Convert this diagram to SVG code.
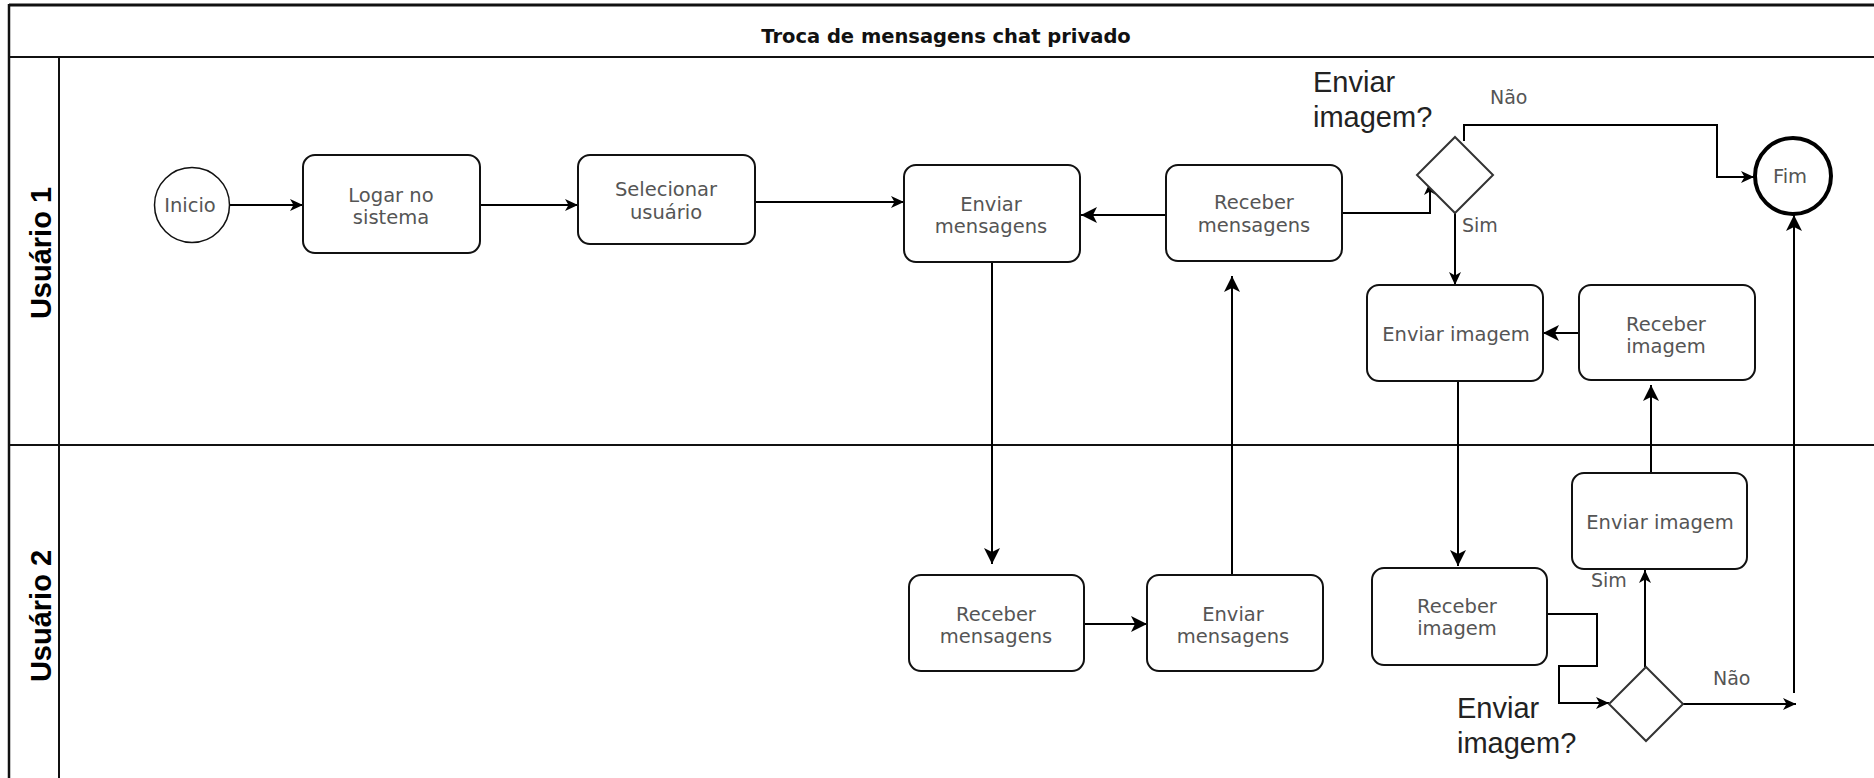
<svg xmlns="http://www.w3.org/2000/svg" width="1874" height="778" viewBox="0 0 1874 778">
  <style>
    .frame { fill: none; stroke: #111; stroke-width: 2; }
    .box { fill: #fff; stroke: #111; stroke-width: 2; }
    .dia { fill: #fff; stroke: #333; stroke-width: 2; }
    .conn { fill: none; stroke: #000; stroke-width: 2; }
    .t { font-family: "DejaVu Sans", Verdana, sans-serif; font-size: 19.5px; fill: #555; text-anchor: middle; }
    .lbl { font-family: "DejaVu Sans", Verdana, sans-serif; font-size: 19px; fill: #555; }
    .q { font-family: "Liberation Sans", Arial, sans-serif; font-size: 29px; fill: #222; }
    .title { font-family: "DejaVu Sans", Verdana, sans-serif; font-size: 19.5px; font-weight: bold; fill: #111; text-anchor: middle; }
    .lane { font-family: "Liberation Sans", Arial, sans-serif; font-size: 29px; font-weight: bold; fill: #000; text-anchor: middle; }
  </style>
  <defs>
    <marker id="arr" markerUnits="userSpaceOnUse" markerWidth="14" markerHeight="12" refX="13" refY="6" orient="auto">
      <path d="M0,0 L13,6 L0,12 L3.5,6 Z" fill="#000"/>
    </marker>
    <marker id="arrBig" markerUnits="userSpaceOnUse" markerWidth="17" markerHeight="16" refX="16" refY="8" orient="auto">
      <path d="M0,0 L16,8 L0,16 L4,8 Z" fill="#000"/>
    </marker>
  </defs>
  <rect x="0" y="0" width="1874" height="778" fill="#fff"/>

  <g id="pool">
    <line x1="9" y1="5" x2="1874" y2="5" stroke="#111" stroke-width="3"/>
    <line x1="9" y1="4" x2="9" y2="778" stroke="#111" stroke-width="2.5"/>
    <line x1="9" y1="57" x2="1874" y2="57" class="frame"/>
    <line x1="59" y1="57" x2="59" y2="778" class="frame"/>
    <line x1="9" y1="445" x2="1874" y2="445" class="frame"/>
    <text class="title" x="946" y="43">Troca de mensagens chat privado</text>
  </g>
  <g id="lane-usuario1">
    <text class="lane" x="51" y="253" transform="rotate(-90 51 253)">Usuário 1</text>
  </g>
  <g id="lane-usuario2">
    <text class="lane" x="51" y="616" transform="rotate(-90 51 616)">Usuário 2</text>
  </g>

  <g id="connectors">
    <path class="conn" d="M229,205 H303" marker-end="url(#arr)"/>
    <path class="conn" d="M480,205 H578" marker-end="url(#arr)"/>
    <path class="conn" d="M755,202 H904" marker-end="url(#arr)"/>
    <path class="conn" d="M1166,215 H1081" marker-end="url(#arrBig)"/>
    <path class="conn" d="M992,262 V564" marker-end="url(#arrBig)"/>
    <path class="conn" d="M1084,624 H1147" marker-end="url(#arrBig)"/>
    <path class="conn" d="M1232,575 V276" marker-end="url(#arrBig)"/>
    <path class="conn" d="M1342,213 H1430 V182" marker-end="url(#arr)"/>
    <path class="conn" d="M1464,141 V125 H1717 V177 H1754" marker-end="url(#arr)"/>
    <path class="conn" d="M1455,213 V285" marker-end="url(#arr)"/>
    <path class="conn" d="M1608,333 H1543" marker-end="url(#arrBig)"/>
    <path class="conn" d="M1458,381 V566" marker-end="url(#arrBig)"/>
    <path class="conn" d="M1547,614 H1597 V666 H1559 V703 H1609" marker-end="url(#arr)"/>
    <path class="conn" d="M1645,667 V570" marker-end="url(#arr)"/>
    <path class="conn" d="M1651,473 V385" marker-end="url(#arrBig)"/>
    <path class="conn" d="M1683,704 H1796" marker-end="url(#arr)"/>
    <path class="conn" d="M1794,693 V215" marker-end="url(#arrBig)"/>
  </g>

  <g id="inicio">
    <circle cx="192" cy="205" r="37.5" fill="#fff" stroke="#111" stroke-width="1.5"/>
    <text class="t" x="190" y="212">Inicio</text>
  </g>
  <g id="logar">
    <rect class="box" x="303" y="155" width="177" height="98" rx="12"/>
    <text class="t" x="391" y="202">Logar no</text>
    <text class="t" x="391" y="224">sistema</text>
  </g>
  <g id="selecionar">
    <rect class="box" x="578" y="155" width="177" height="89" rx="12"/>
    <text class="t" x="666" y="196">Selecionar</text>
    <text class="t" x="666" y="219">usuário</text>
  </g>
  <g id="enviar-msg-1">
    <rect class="box" x="904" y="165" width="176" height="97" rx="12"/>
    <text class="t" x="991" y="211">Enviar</text>
    <text class="t" x="991" y="233">mensagens</text>
  </g>
  <g id="receber-msg-1">
    <rect class="box" x="1166" y="165" width="176" height="96" rx="12"/>
    <text class="t" x="1254" y="209">Receber</text>
    <text class="t" x="1254" y="232">mensagens</text>
  </g>
  <g id="decisao-1">
    <polygon class="dia" points="1455,137 1493,175 1455,213 1417,175"/>
    <text class="q" x="1313" y="92">Enviar</text>
    <text class="q" x="1313" y="127">imagem?</text>
    <text class="lbl" x="1490" y="104">Não</text>
    <text class="lbl" x="1462" y="232">Sim</text>
  </g>
  <g id="fim">
    <circle cx="1793" cy="176" r="38" fill="#fff" stroke="#000" stroke-width="4"/>
    <text class="t" x="1790" y="183">Fim</text>
  </g>
  <g id="enviar-img-1">
    <rect class="box" x="1367" y="285" width="176" height="96" rx="12"/>
    <text class="t" x="1456" y="341">Enviar imagem</text>
  </g>
  <g id="receber-img-1">
    <rect class="box" x="1579" y="285" width="176" height="95" rx="12"/>
    <text class="t" x="1666" y="331">Receber</text>
    <text class="t" x="1666" y="353">imagem</text>
  </g>
  <g id="receber-msg-2">
    <rect class="box" x="909" y="575" width="175" height="96" rx="12"/>
    <text class="t" x="996" y="621">Receber</text>
    <text class="t" x="996" y="643">mensagens</text>
  </g>
  <g id="enviar-msg-2">
    <rect class="box" x="1147" y="575" width="176" height="96" rx="12"/>
    <text class="t" x="1233" y="621">Enviar</text>
    <text class="t" x="1233" y="643">mensagens</text>
  </g>
  <g id="receber-img-2">
    <rect class="box" x="1372" y="568" width="175" height="97" rx="12"/>
    <text class="t" x="1457" y="613">Receber</text>
    <text class="t" x="1457" y="635">imagem</text>
  </g>
  <g id="enviar-img-2">
    <rect class="box" x="1572" y="473" width="175" height="96" rx="12"/>
    <text class="t" x="1660" y="529">Enviar imagem</text>
  </g>
  <g id="decisao-2">
    <polygon class="dia" points="1646,667 1683,704 1646,741 1609,704"/>
    <text class="q" x="1457" y="718">Enviar</text>
    <text class="q" x="1457" y="753">imagem?</text>
    <text class="lbl" x="1591" y="587">Sim</text>
    <text class="lbl" x="1713" y="685">Não</text>
  </g>
</svg>
